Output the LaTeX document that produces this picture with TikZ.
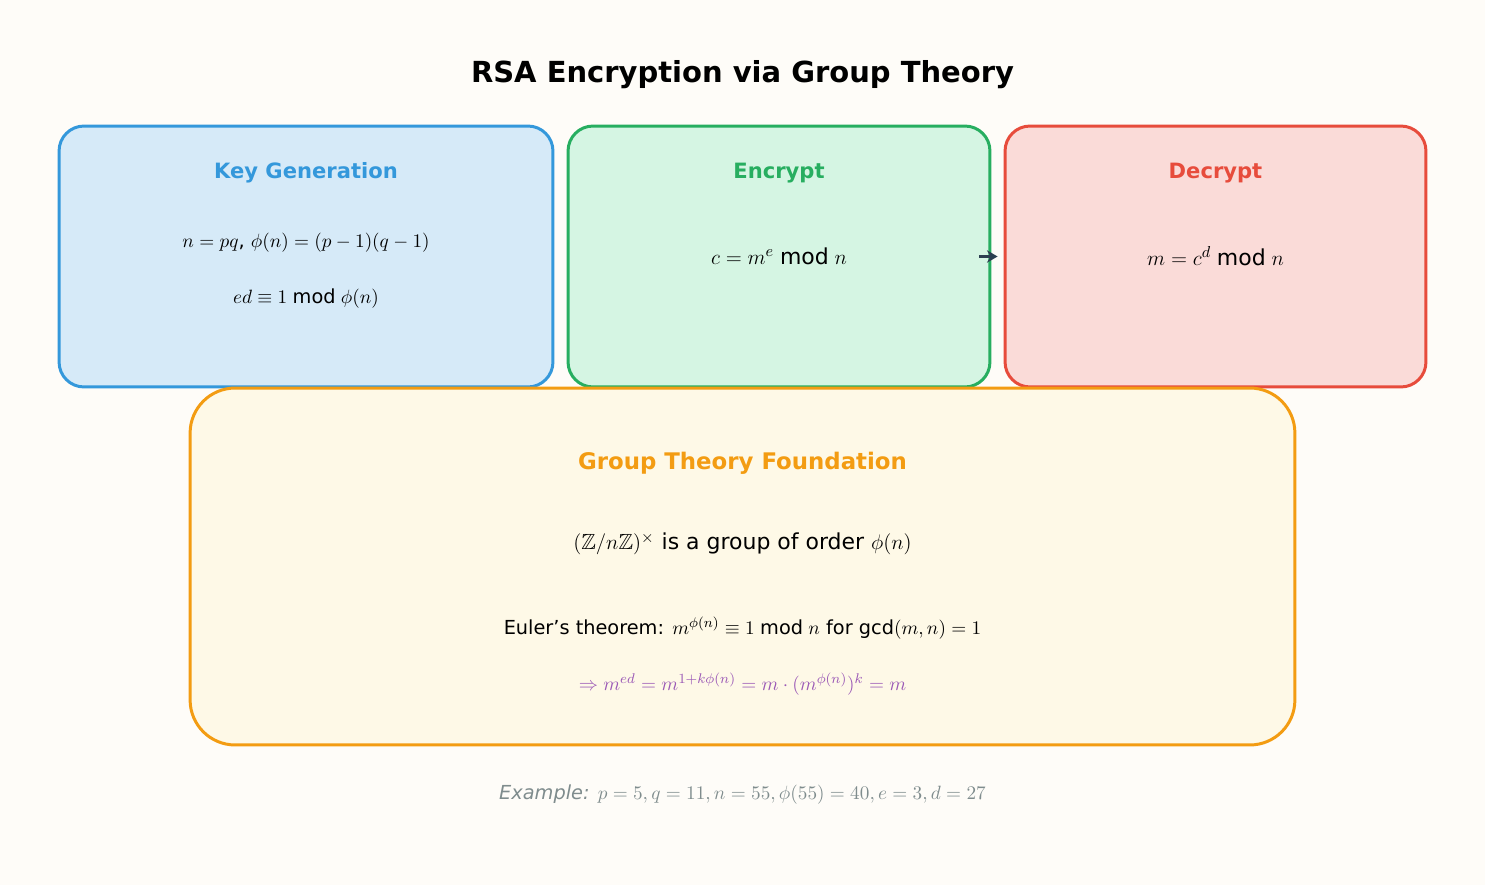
\documentclass[tikz,border=0pt]{standalone}
\usepackage{fontspec}
\setmainfont{DejaVu Sans}
\usepackage{amssymb}
\usetikzlibrary{arrows.meta}
\definecolor{bgc}{HTML}{FEFCF8}
\definecolor{kblue}{HTML}{3498DB}\definecolor{kbluef}{HTML}{D6EAF8}
\definecolor{egreen}{HTML}{27AE60}\definecolor{egreenf}{HTML}{D5F5E3}
\definecolor{dred}{HTML}{E74C3C}\definecolor{dredf}{HTML}{FADBD8}
\definecolor{gorange}{HTML}{F39C12}\definecolor{gorangef}{HTML}{FEF9E7}
\definecolor{epurple}{HTML}{9B59B6}
\definecolor{exgrey}{HTML}{7F8C8D}
\definecolor{arrowc}{HTML}{2C3E50}
\begin{document}
\begin{tikzpicture}[x=0.02cm, y=-0.02cm,
    box/.style={draw, line width=1.7pt, rounded corners=0.5cm, inner sep=0pt},
    head/.style={font=\bfseries\fontsize{12}{14}\selectfont},
    body/.style={font=\fontsize{11}{13}\selectfont}]

    % background
    \fill[bgc] (0,0) rectangle (1485,885);
    \useasboundingbox (0,0) rectangle (1485,885);

    \node[font=\bfseries\fontsize{16.5}{19}\selectfont] (title) at (742.5,75) {RSA Encryption via Group Theory};

    % boxes
    \node[box, draw=kblue, fill=kbluef, minimum width=9.88cm, minimum height=5.22cm] (key) at (306,256.5) {};
    \node[box, draw=egreen, fill=egreenf, minimum width=8.44cm, minimum height=5.22cm] (enc) at (779,256.5) {};
    \node[box, draw=dred, fill=dredf, minimum width=8.42cm, minimum height=5.22cm] (dec) at (1215.5,256.5) {};
    \node[box, draw=gorange, fill=gorangef, rounded corners=0.9cm, minimum width=22.1cm, minimum height=7.14cm] (grp) at (742.5,566.5) {};

    % key generation
    \node[head, text=kblue] (keyh) at (306,173) {Key Generation};
    \node[body] (key1) at (306,243) {$n=pq$, $\phi(n)=(p-1)(q-1)$};
    \node[body] (key2) at (306,299) {$ed\equiv 1 \bmod \phi(n)$};

    % encrypt
    \node[head, text=egreen] (ench) at (779,173) {Encrypt};
    \node[font=\fontsize{12.5}{15}\selectfont] (enc1) at (779,256) {$c=m^e \bmod n$};

    % decrypt
    \node[head, text=dred] (dech) at (1215.5,173) {Decrypt};
    \node[font=\fontsize{12.5}{15}\selectfont] (dec1) at (1215.5,256) {$m=c^d \bmod n$};

    \draw[-{Stealth[length=6pt,width=7pt]}, line width=1.6pt, arrowc] ([xshift=-0.24cm]enc.east) -- ([xshift=-0.12cm]dec.west);

    % group theory
    \node[font=\bfseries\fontsize{13}{15}\selectfont, text=gorange] (grph) at (742.5,463) {Group Theory Foundation};
    \node[font=\fontsize{12.5}{15}\selectfont] (grp1) at (742.5,544) {$(\mathbb{Z}/n\mathbb{Z})^\times$ is a group of order $\phi(n)$};
    \node[body] (grp2) at (742.5,628) {Euler{\char39}s theorem: $m^{\phi(n)}\equiv 1 \bmod n$ for $\gcd(m,n)=1$};
    \node[body, text=epurple] (grp3) at (742.5,684) {$\Rightarrow m^{ed}=m^{1+k\phi(n)}=m\cdot(m^{\phi(n)})^k=m$};

    \node[body, text=exgrey] (ex) at (742.5,795) {\textit{Example:} $p=5, q=11, n=55, \phi(55)=40, e=3, d=27$};
\end{tikzpicture}
\end{document}
